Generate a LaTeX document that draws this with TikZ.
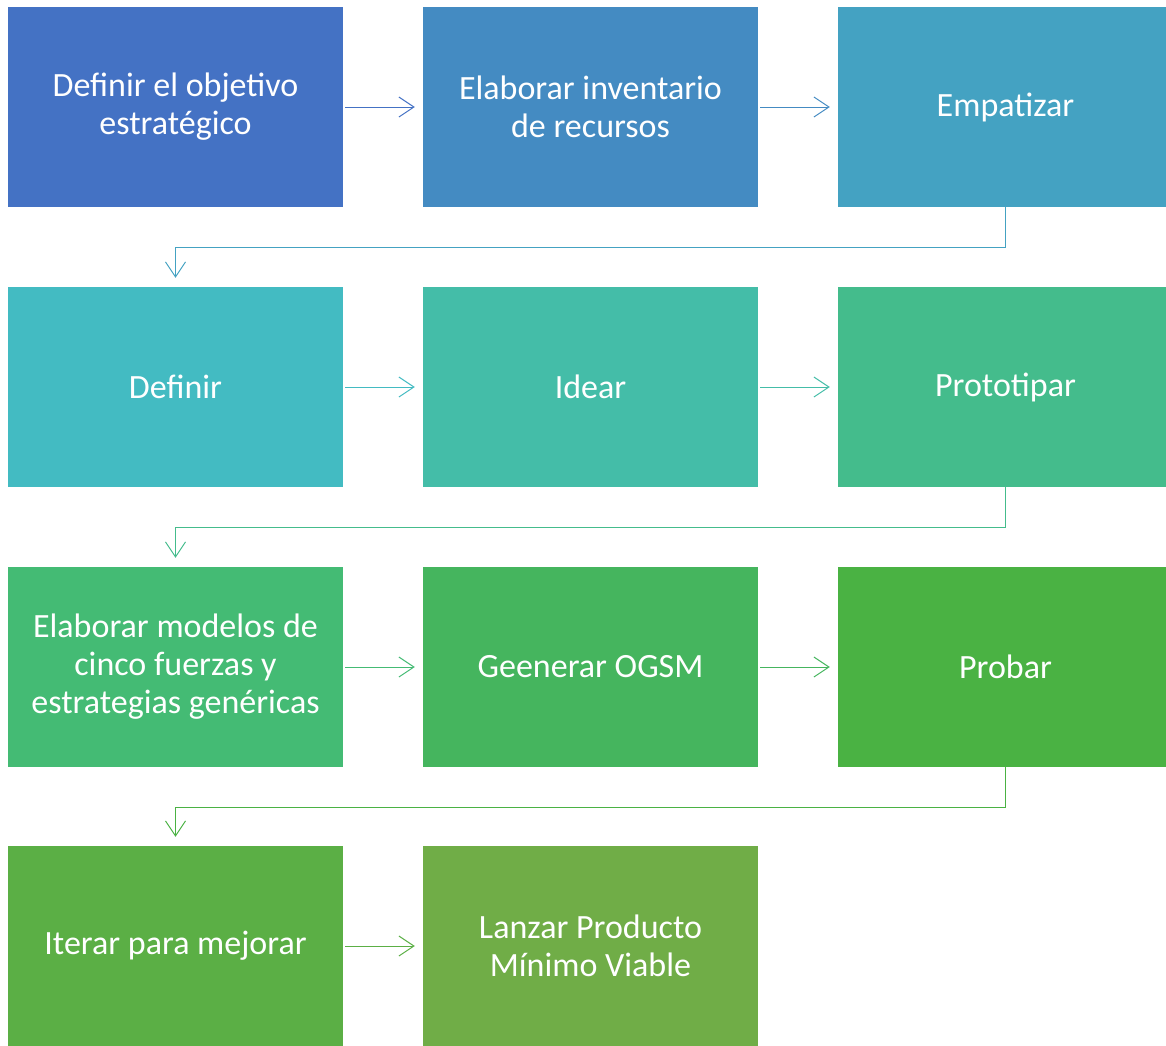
\documentclass[tikz,border=0pt]{standalone}
\usepackage{fontspec}
\setmainfont{Carlito}
\usetikzlibrary{arrows.meta}
\definecolor{cA}{HTML}{4472C4}
\definecolor{cB}{HTML}{448BC2}
\definecolor{cC}{HTML}{44A2C2}
\definecolor{cD}{HTML}{43BBC2}
\definecolor{cE}{HTML}{44BDA8}
\definecolor{cF}{HTML}{44BC8C}
\definecolor{cG}{HTML}{44BB74}
\definecolor{cH}{HTML}{45B55E}
\definecolor{cI}{HTML}{4AB243}
\definecolor{cJ}{HTML}{5BAF45}
\definecolor{cK}{HTML}{70AD47}
\tikzset{
  stepbox/.style={rectangle, fill=#1, draw=none, minimum width=335pt, minimum height=200pt,
    text=white, align=center, font=\fontsize{34}{38}\selectfont, inner sep=0pt},
  flow/.style={draw=#1, line width=1pt, -{Straight Barb[length=15pt,width=20pt,line width=1pt]}},
}
\begin{document}
\begin{tikzpicture}[x=1pt,y=1pt]
\useasboundingbox (0,0) rectangle (1166,-1045);
% grid of process steps
\node[stepbox=cA] (s1) at (175.5,-107) {Definir el objetivo\\estratégico};
\node[stepbox=cB] (s2) at (590.5,-107) {Elaborar inventario\\de recursos};
\node[stepbox=cC] (s3) at (1005.5,-107) {Empatizar};
\node[stepbox=cD] (s4) at (175.5,-387) {Definir};
\node[stepbox=cE] (s5) at (590.5,-387) {Idear};
\node[stepbox=cF] (s6) at (1005.5,-387) {Prototipar};
\node[stepbox=cG] (s7) at (175.5,-667) {Elaborar modelos de\\cinco fuerzas y\\estrategias genéricas};
\node[stepbox=cH] (s8) at (590.5,-667) {Geenerar OGSM};
\node[stepbox=cI] (s9) at (1005.5,-667) {Probar};
\node[stepbox=cJ] (s10) at (175.5,-946) {Iterar para mejorar};
\node[stepbox=cK] (s11) at (590.5,-946) {Lanzar Producto\\Mínimo Viable};
% horizontal links within rows
\draw[flow=cA] ([xshift=2pt]s1.east) -- ([xshift=-8pt]s2.west);
\draw[flow=cB] ([xshift=2pt]s2.east) -- ([xshift=-8pt]s3.west);
\draw[flow=cD] ([xshift=2pt]s4.east) -- ([xshift=-8pt]s5.west);
\draw[flow=cE] ([xshift=2pt]s5.east) -- ([xshift=-8pt]s6.west);
\draw[flow=cG] ([xshift=2pt]s7.east) -- ([xshift=-8pt]s8.west);
\draw[flow=cH] ([xshift=2pt]s8.east) -- ([xshift=-8pt]s9.west);
\draw[flow=cJ] ([xshift=2pt]s10.east) -- ([xshift=-8pt]s11.west);
% wrap-around links between rows
\draw[flow=cC] (s3.south) -- ++(0,-40) -| ([yshift=9pt]s4.north);
\draw[flow=cF] (s6.south) -- ++(0,-40) -| ([yshift=9pt]s7.north);
\draw[flow=cI] (s9.south) -- ++(0,-40) -| ([yshift=9pt]s10.north);
\end{tikzpicture}
\end{document}
